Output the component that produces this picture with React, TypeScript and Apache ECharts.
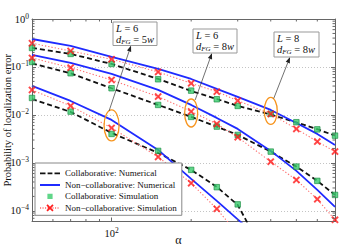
import React, { useEffect, useRef } from 'react';
import * as echarts from 'echarts';

const FONT = '"Liberation Serif", "Times New Roman", Times, serif';

// ---------------- data ----------------
const alpha = [50, 70, 100, 150, 200, 250, 300, 400, 500, 600, 700];

// highest-error group
const hiCollabNum = [0.249, 0.187, 0.1155, 0.0562, 0.0316, 0.0215, 0.0154, 0.0102, 0.00698, 0.00504, 0.0037];
const hiNonCollabNum = [0.383, 0.274, 0.1616, 0.0908, 0.0562, 0.0348, 0.0237, 0.0127, 0.00681, 0.00402, 0.00237];
const hiCollabSim = [0.249, 0.187, 0.1155, 0.0554, 0.0321, 0.0212, 0.0154, 0.0105, 0.00705, 0.005, 0.0037];
const hiNonCollabSim = [0.312, 0.215, 0.1447, 0.0787, 0.0457, 0.0306, 0.0198, 0.0105, 0.00511, 0.00278, 0.00172];

// middle group
const midCollabNum = [0.118, 0.0739, 0.036, 0.01616, 0.00909, 0.00571, 0.00383, 0.00172, 0.000837, 0.000422, 0.000215];
const midNonCollabNum = [0.1778, 0.1212, 0.0715, 0.0332, 0.01616, 0.00866, 0.00511, 0.00178, 0.000681, 0.000274, 0.000121];
const midCollabSim = [0.127, 0.0739, 0.036, 0.01616, 0.00909, 0.00571, 0.00383, 0.00172, 0.000837, 0.000422, 0.000215];
const midNonCollabSim = [0.154, 0.0967, 0.0536, 0.0241, 0.0118, 0.00649, 0.00343, 0.00106, 0.000442, 0.000175, 0.0000649];

// lowest group (continues below the axis floor)
const loCollabNum = [0.0215, 0.01155, 0.00422, 0.001616, 0.000715, 0.000316, 0.000133, 0.00000715];
const loNonCollabNum = [0.0402, 0.01957, 0.00787, 0.001866, 0.000464, 0.0001616, 0.0000665, 0.0000165];
const loCollabSim = [0.0226, 0.01172, 0.00402, 0.00178, 0.000715, 0.000312, 0.0001366];
const loNonCollabSim = [0.0332, 0.0154, 0.00536, 0.001334, 0.000378, 0.00011, 0.0000332];

const legendNames = [
  'Collaborative: Numerical',
  'Non\u2212collaborative: Numerical',
  'Collaborative: Simulation',
  'Non\u2212collaborative: Simulation',
];

const xMin = 50, xMax = 700, yMin = 6e-5, yMax = 1;
const xMinorTicks = [60, 70, 80, 90, 200, 300, 400, 500, 600];
const minorMantissas = [2, 3, 4, 5, 6, 7, 8, 9];
const minorDecades = [-5, -4, -3, -2, -1];

// annotation labels
const annoL = ['6', '6', '8'];
const annoD = ['5', '8', '8'];

// ---------------- helpers ----------------
const zip = (vals: number[]) => vals.map((v, i) => [alpha[i], v]);

function xPath(cx: number, cy: number, h: number, t: number) {
  const p = [
    [cx - h, cy - h + t], [cx - h + t, cy - h], [cx, cy - t], [cx + h - t, cy - h], [cx + h, cy - h + t],
    [cx + t, cy], [cx + h, cy + h - t], [cx + h - t, cy + h], [cx, cy + t], [cx - h + t, cy + h],
    [cx - h, cy + h - t], [cx - t, cy],
  ];
  return 'M' + p.map((q) => q[0].toFixed(2) + ',' + q[1].toFixed(2)).join('L') + 'Z';
}

const CORNERS = 'M0,0h0.02v0.02h-0.02Z M19.98,7.98h0.02v0.02h-0.02Z ';
const iconDash = 'path://' + CORNERS + 'M0,3.1h5.5v1.8h-5.5Z M7.6,3.1h4.8v1.8h-4.8Z M14.5,3.1h5.5v1.8h-5.5Z';
const iconSolid = 'path://' + CORNERS + 'M0,3h20v2h-20Z';
const iconSquare = 'path://' + CORNERS + 'M7.4,1.4h5.2v5.2h-5.2Z';
let dots = '';
for (let x = 0; x < 20; x += 2.5) dots += `M${x.toFixed(1)},3.5h1.1v1h-1.1Z `;
const iconCross = 'path://' + CORNERS + dots + xPath(10, 4, 3.6, 1.25);
const crossSymbol = 'path://' + xPath(5, 5, 5, 1.8);

const AXIS = '#666';
const TXT = '#111';

const powLabel = (v: number) => {
  const e = Math.log10(v);
  const r = Math.round(e);
  if (Math.abs(e - r) > 1e-6) return '';
  return '{b|10}{s|' + (r < 0 ? '\u2212' + -r : String(r)) + '}';
};
const labelRich = {
  b: { fontSize: 10.5, fontFamily: FONT, lineHeight: 14, color: TXT },
  s: { fontSize: 7.5, fontFamily: FONT, lineHeight: 7, verticalAlign: 'top', color: TXT },
};

function buildOption() {
  const groups = [
    { cn: hiCollabNum, nn: hiNonCollabNum, cs: hiCollabSim, ns: hiNonCollabSim },
    { cn: midCollabNum, nn: midNonCollabNum, cs: midCollabSim, ns: midNonCollabSim },
    { cn: loCollabNum, nn: loNonCollabNum, cs: loCollabSim, ns: loNonCollabSim },
  ];
  const series: any[] = [];
  groups.forEach((g) => {
    series.push({
      type: 'line', name: legendNames[0], data: zip(g.cn), symbol: 'none', showSymbol: false, silent: true, z: 2,
      lineStyle: { color: '#111', width: 1.8, type: [5, 3] }, itemStyle: { color: '#111' },
    });
    series.push({
      type: 'line', name: legendNames[1], data: zip(g.nn), symbol: 'none', showSymbol: false, silent: true, z: 2,
      lineStyle: { color: '#1f2bff', width: 1.8 }, itemStyle: { color: '#1f2bff' },
    });
    series.push({
      type: 'line', name: legendNames[3], data: zip(g.ns), symbol: 'none', showSymbol: false, silent: true, z: 2,
      lineStyle: { color: '#ff7272', width: 1.1, type: [1.3, 2] }, itemStyle: { color: '#ff1a1a' },
    });
  });
  groups.forEach((g) => {
    series.push({
      type: 'scatter', name: legendNames[2], data: zip(g.cs), symbol: 'rect', symbolSize: 5.5, clip: false, silent: true, z: 3,
      itemStyle: { color: '#38cc6c', borderColor: '#16893f', borderWidth: 0.8 },
    });
    series.push({
      type: 'scatter', name: legendNames[3], data: zip(g.ns).filter((d) => d[1] >= yMin), symbol: crossSymbol,
      symbolSize: 7.5, clip: false, silent: true, z: 4, itemStyle: { color: '#ff1a1a' },
    });
  });

  const tickData: number[][] = [];
  xMinorTicks.forEach((v) => tickData.push([v, 0.01, 0]));
  minorDecades.forEach((k) =>
    minorMantissas.forEach((m) => {
      const v = m * Math.pow(10, k);
      if (v > yMin && v < yMax) tickData.push([100, v, 1]);
    })
  );
  series.push({
    type: 'custom', data: tickData, silent: true, z: 6, clip: false, encode: { x: 0, y: 1 },
    renderItem: (params: any, api: any) => {
      const cs = params.coordSys;
      const len = 2.5;
      const st = { stroke: AXIS, lineWidth: 1 };
      if (api.value(2) === 0) {
        const px = api.coord([api.value(0), 0.01])[0];
        return {
          type: 'group', children: [
            { type: 'line', shape: { x1: px, y1: cs.y + cs.height, x2: px, y2: cs.y + cs.height - len }, style: st },
            { type: 'line', shape: { x1: px, y1: cs.y, x2: px, y2: cs.y + len }, style: st },
          ],
        };
      }
      const py = api.coord([100, api.value(1)])[1];
      return {
        type: 'group', children: [
          { type: 'line', shape: { x1: cs.x, y1: py, x2: cs.x + len, y2: py }, style: st },
          { type: 'line', shape: { x1: cs.x + cs.width, y1: py, x2: cs.x + cs.width - len, y2: py }, style: st },
        ],
      };
    },
  });

  const axisCommon = {
    axisLine: { show: true, lineStyle: { color: AXIS, width: 1 } },
    axisTick: { show: true, inside: true, length: 4, lineStyle: { color: AXIS, width: 1 } },
    nameMoveOverlap: false,
  };

  return {
    animation: false,
    backgroundColor: '#fff',
    textStyle: { fontFamily: FONT },
    grid: { left: 32, top: 19, right: 19, bottom: 27.5, containLabel: false, outerBoundsMode: 'none' },
    xAxis: [
      {
        type: 'log', logBase: 10, min: xMin, max: xMax, position: 'bottom', ...axisCommon,
        axisLabel: { formatter: powLabel, rich: labelRich, margin: 5, showMinLabel: false, showMaxLabel: false, color: TXT, fontFamily: FONT },
        splitLine: { show: false },
        name: '\u03b1', nameLocation: 'middle', nameGap: 12,
        nameTextStyle: { fontFamily: FONT, fontSize: 12, color: TXT, padding: [0, 10, 0, 0] },
      },
      {
        type: 'log', logBase: 10, min: xMin, max: xMax, position: 'top', ...axisCommon,
        axisLabel: { show: false }, splitLine: { show: false },
      },
    ],
    yAxis: [
      {
        type: 'log', logBase: 10, min: yMin, max: yMax, position: 'left', ...axisCommon,
        axisLabel: { formatter: powLabel, rich: labelRich, margin: 3, showMinLabel: false, color: TXT, fontFamily: FONT },
        splitLine: { show: true, lineStyle: { color: '#c4c4c4', width: 1, type: [1, 2] } },
        name: 'Probability of localization error', nameLocation: 'middle', nameGap: 19,
        nameTextStyle: { fontFamily: FONT, fontSize: 10.5, color: TXT },
      },
      {
        type: 'log', logBase: 10, min: yMin, max: yMax, position: 'right', ...axisCommon,
        axisLabel: { show: false }, splitLine: { show: false },
      },
    ],
    legend: {
      orient: 'vertical', left: 35, top: 163, itemWidth: 20, itemHeight: 8, itemGap: 0.7,
      padding: [5, 5, 2, 5], backgroundColor: '#fff', borderColor: '#888', borderWidth: 1, borderRadius: 0,
      selectedMode: false, symbolKeepAspect: true,
      textStyle: { fontFamily: FONT, fontSize: 9, lineHeight: 10.8, color: TXT },
      data: [
        { name: legendNames[0], icon: iconDash, itemStyle: { color: '#111', borderWidth: 0 } },
        { name: legendNames[1], icon: iconSolid, itemStyle: { color: '#1f2bff', borderWidth: 0 } },
        { name: legendNames[2], icon: iconSquare, itemStyle: { color: '#38cc6c', borderWidth: 0 } },
        { name: legendNames[3], icon: iconCross, itemStyle: { color: '#ff2020', borderWidth: 0 } },
      ],
    },
    series,
  };
}

export default function App() {
  const ref = useRef<HTMLDivElement>(null);
  useEffect(() => {
    const chart = echarts.init(ref.current!, null, { renderer: 'svg' });
    chart.setOption(buildOption() as any);

    const toPx = (a: number, v: number) =>
      chart.convertToPixel({ xAxisIndex: 0, yAxisIndex: 0 } as any, [a, v]) as unknown as number[];

    const ellipses = [
      { c: toPx(100, loNonCollabSim[2]), dy: -2.5, rx: 7.5, ry: 15.5, sx: -2.5, ex: 131, ey: 45.5 },
      { c: toPx(200, midNonCollabSim[4]), dy: 1.5, rx: 6.5, ry: 14, sx: 4, ex: 212, ey: 53 },
      { c: toPx(400, hiNonCollabSim[7]), dy: -3, rx: 6.5, ry: 13.5, sx: 3, ex: 290, ey: 57 },
    ];
    const boxes = [
      { x: 113, y: 22, w: 44, h: 23.5 },
      { x: 193, y: 29, w: 44, h: 24 },
      { x: 274, y: 32, w: 45, h: 25 },
    ];
    const els: any[] = [];
    ellipses.forEach((e) => {
      const cx = e.c[0];
      const cy = e.c[1] + e.dy;
      els.push({
        type: 'ellipse', silent: true, z: 100,
        shape: { cx, cy, rx: e.rx, ry: e.ry },
        style: { fill: 'none', stroke: '#f7941d', lineWidth: 1.3 },
      });
      const x1 = cx + e.sx, y1 = cy - e.ry + 1;
      const dx = e.ex - x1, dy = e.ey - y1;
      const L = Math.hypot(dx, dy);
      const ux = dx / L, uy = dy / L;
      const bx = e.ex - 6 * ux, by = e.ey - 6 * uy;
      els.push({
        type: 'line', silent: true, z: 101,
        shape: { x1, y1, x2: bx, y2: by },
        style: { stroke: '#333', lineWidth: 0.7 },
      });
      els.push({
        type: 'polygon', silent: true, z: 101,
        shape: { points: [[e.ex, e.ey], [bx - 2.2 * uy, by + 2.2 * ux], [bx + 2.2 * uy, by - 2.2 * ux]] },
        style: { fill: '#222' },
      });
    });
    const tok = (extra: any) => ({ fontFamily: FONT, fontSize: 10.5, lineHeight: 11, fill: TXT, ...extra });
    boxes.forEach((b, i) => {
      els.push({
        type: 'rect', silent: true, z: 102,
        shape: { x: b.x, y: b.y, width: b.w, height: b.h },
        style: { fill: '#fff', stroke: '#999', lineWidth: 1 },
      });
      els.push({
        type: 'text', silent: true, z: 103, x: b.x + 3, y: b.y + 1,
        style: {
          text: `{i|L}{n| = ${annoL[i]}}\n{i|d}{s|FG}{n| = ${annoD[i]}}{i|w}`,
          fontFamily: FONT, fontSize: 10.5, lineHeight: 11, fill: TXT, align: 'left', verticalAlign: 'top',
          rich: {
            i: tok({ fontStyle: 'italic' }),
            n: tok({}),
            s: { fontFamily: FONT, fontSize: 7, lineHeight: 6, fontStyle: 'italic', fill: TXT, verticalAlign: 'bottom' },
          },
        },
      });
    });
    chart.setOption({ graphic: els } as any);
    return () => chart.dispose();
  }, []);
  return (
    <div
      ref={ref}
      style={{ position: 'absolute', left: 0, top: 0, width: 354, height: 249, background: '#fff' }}
    />
  );
}
